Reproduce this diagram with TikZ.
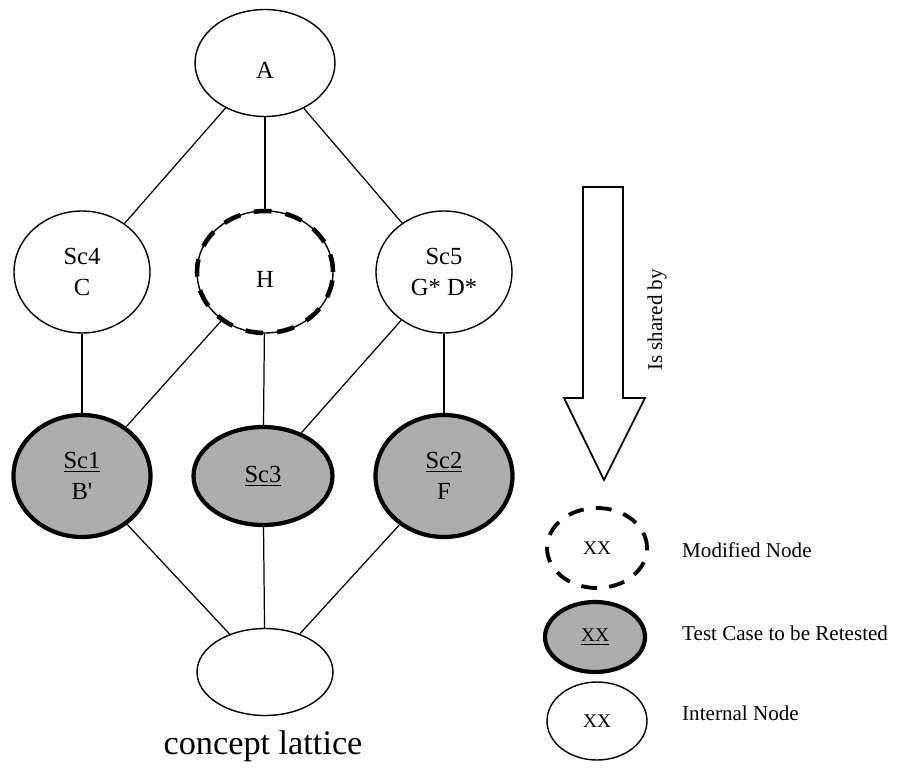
\documentclass[tikz,border=0pt]{standalone}
\usepackage{fontspec}
\setmainfont{Liberation Serif}
\usetikzlibrary{shapes.geometric}

\definecolor{retestgray}{gray}{0.68}

\tikzset{
  internal/.style={ellipse, draw, line width=0.8pt, fill=white, inner sep=0pt,
    align=center, font=\fontsize{14}{18}\selectfont},
  modified/.style={internal, postaction={draw, line width=2.6pt, dash pattern=on 10pt off 8pt}},
  retest/.style={internal, fill=retestgray, line width=2.4pt},
  keytext/.style={anchor=west, font=\fontsize{12}{14}\selectfont},
  edge/.style={line width=0.7pt}
}

\begin{document}
\begin{tikzpicture}[x=0.02cm, y=-0.02cm]

  \useasboundingbox (0,0) rectangle (899,770);

  % Draw the lattice
  \node[internal, minimum width=2.8cm, minimum height=2.14cm] (A) at (265,63) {\mbox{}\\A};

  \node[internal, minimum width=2.72cm, minimum height=2.44cm] (sc4) at (82,272) {Sc4\\C};
  \node[modified, minimum width=2.72cm, minimum height=2.44cm] (h) at (265,272) {\mbox{}\\H};
  \node[internal, minimum width=2.72cm, minimum height=2.44cm] (sc5) at (444,272) {Sc5\\G* D*};

  \node[retest, minimum width=2.74cm, minimum height=2.44cm] (sc1) at (82,476) {\underline{Sc1}\\B\textquotesingle};
  \node[retest, minimum width=2.78cm, minimum height=1.96cm] (sc3) at (263,476) {\underline{Sc3}};
  \node[retest, minimum width=2.74cm, minimum height=2.44cm] (sc2) at (444,476) {\underline{Sc2}\\F};

  \node[internal, minimum width=2.72cm, minimum height=1.74cm] (bot) at (265,672) {};

  \draw[edge] (A) -- (sc4);
  \draw[edge] (A) -- (h);
  \draw[edge] (A) -- (sc5);

  \draw[edge] (sc4) -- (sc1);
  \draw[edge] (h) -- (sc1);
  \draw[edge] (h) -- (sc3);
  \draw[edge] (sc5) -- (sc3);
  \draw[edge] (sc5) -- (sc2);

  \draw[edge] (sc1) -- (bot);
  \draw[edge] (sc3) -- (bot);
  \draw[edge] (sc2) -- (bot);

  \node[font=\fontsize{19.5}{22}\selectfont] (title) at (263,746) {concept lattice};

  % hollow arrow
  \draw[line width=1pt, line join=miter] (583,187) -- (623,187) -- (623,398) -- (645,398)
    -- (604,480) -- (564,398) -- (583,398) -- cycle;
  \node[rotate=90, font=\fontsize{12}{14}\selectfont] (shared) at (657,320) {Is shared by};

  % legend
  \node[ellipse, draw, line width=2.2pt, dash pattern=on 9pt off 7pt, inner sep=0pt,
    minimum width=2cm, minimum height=1.6cm, font=\fontsize{11}{13}\selectfont] (keymod) at (597,548) {XX};
  \node[retest, minimum width=2cm, minimum height=1.4cm, font=\fontsize{11}{13}\selectfont] (keytest) at (595,637) {\underline{XX}};
  \node[internal, minimum width=2cm, minimum height=1.56cm, font=\fontsize{11}{13}\selectfont] (keyint) at (597,721) {XX};

  \node[keytext] (modtext) at (676,550) {Modified Node};
  \node[keytext] (testtext) at (676,633) {Test Case to be Retested};
  \node[keytext] (inttext) at (676,713) {Internal Node};

\end{tikzpicture}
\end{document}
